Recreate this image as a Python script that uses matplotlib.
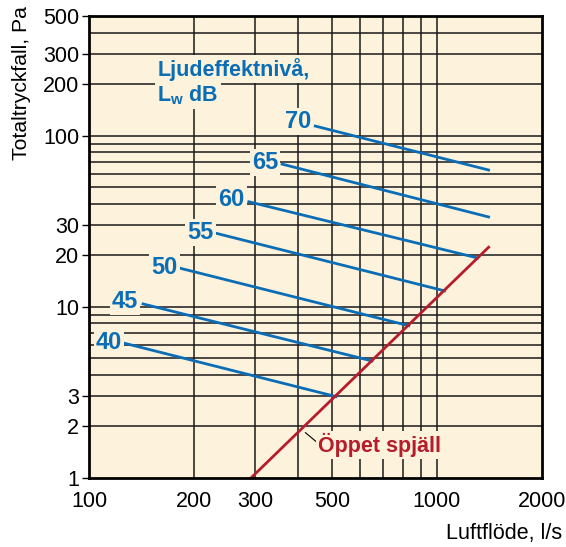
import matplotlib
matplotlib.use('Agg')
import matplotlib.pyplot as plt
from matplotlib.ticker import FixedLocator, NullLocator

plt.rcParams['font.family'] = ['Liberation Sans', 'DejaVu Sans']
plt.rcParams['mathtext.fontset'] = 'custom'
plt.rcParams['mathtext.bf'] = 'Liberation Sans:bold'
plt.rcParams['mathtext.rm'] = 'Liberation Sans'

# sound power level lines (start / end points)
levels = [40, 45, 50, 55, 60, 65, 70]
x_start = [126, 143, 183, 232, 288, 359, 447]
y_start = [6.14, 10.4, 16.8, 26.9, 41.1, 68.2, 113.8]
x_end = [513, 651, 830, 1052, 1309, 1408, 1408]
y_end = [2.99, 4.83, 7.76, 12.4, 19.3, 33.5, 63.0]
label_x = [114, 127, 165, 209, 257, 321, 398]
label_y = [6.17, 10.8, 17.0, 27.2, 42.6, 69.8, 120.5]

# open damper line
open_x = [292, 1408]
open_y = [1.0, 22.3]

x_grid = [200, 300, 400, 500, 600, 700, 800, 900, 1000]
y_grid = [2, 3, 4, 5, 6, 7, 8, 9, 10, 20, 30, 40, 50, 60, 70, 80, 90, 100, 200, 300, 400]
x_ticks = [100, 200, 300, 500, 1000, 2000]
y_ticks = [1, 2, 3, 10, 20, 30, 100, 200, 300, 500]

blue = '#0a6db5'
red = '#b71c2c'
cream = '#fdf3dc'

fig = plt.figure(figsize=(5.66, 5.47), dpi=100)
ax = fig.add_axes([0.1572, 0.1261, 0.7998, 0.8446])
ax.set_facecolor(cream)
ax.set_xscale('log')
ax.set_yscale('log')
ax.set_xlim(100, 2000)
ax.set_ylim(1, 500)

for gx in x_grid:
    ax.axvline(gx, color='#1a1a1a', lw=1.1, zorder=1)
for gy in y_grid:
    ax.axhline(gy, color='#1a1a1a', lw=1.1, zorder=1)

for i in range(len(levels)):
    ax.plot([x_start[i], x_end[i]], [y_start[i], y_end[i]], color=blue, lw=2, zorder=3)
    ax.text(label_x[i], label_y[i], str(levels[i]), color=blue, fontsize=17,
            fontweight='bold', ha='center', va='center', zorder=4,
            bbox=dict(facecolor=cream, edgecolor='none', pad=1.5))

ax.plot(open_x, open_y, color=red, lw=2, zorder=3)
ax.plot([419, 450], [1.84, 1.63], color='black', lw=0.8, zorder=3)
ax.text(456, 1.56, 'Öppet spjäll', color=red, fontsize=15.5, fontweight='bold',
        ha='left', va='center', zorder=4,
        bbox=dict(facecolor=cream, edgecolor='none', pad=1.5))

ax.text(157, 245, 'Ljudeffektnivå,', color=blue, fontsize=15.5, fontweight='bold',
        ha='left', va='center', zorder=4,
        bbox=dict(facecolor=cream, edgecolor='none', pad=1.5))
ax.text(157, 172, r'$\mathbf{L}_{\mathbf{w}}$ dB', color=blue, fontsize=15.5, fontweight='bold',
        ha='left', va='center', zorder=4,
        bbox=dict(facecolor=cream, edgecolor='none', pad=1.5))

ax.xaxis.set_major_locator(FixedLocator(x_ticks))
ax.xaxis.set_minor_locator(NullLocator())
ax.set_xticklabels([str(t) for t in x_ticks])
ax.yaxis.set_major_locator(FixedLocator(y_ticks))
ax.yaxis.set_minor_locator(NullLocator())
ax.set_yticklabels([str(t) for t in y_ticks])
ax.tick_params(axis='x', length=0, pad=9, labelsize=15.5)
ax.tick_params(axis='y', length=5, width=1, pad=2, labelsize=15.5)

for s in ax.spines.values():
    s.set_linewidth(2)
    s.set_zorder(5)

fig.text(22 / 566, 1 - 6 / 547, 'Totaltryckfall, Pa', rotation=90, fontsize=15.2,
         ha='center', va='top')
fig.text(562 / 566, 1 - 533 / 547, 'Luftflöde, l/s', fontsize=15.5, ha='right', va='center')

fig.savefig('out.png', dpi=100)
